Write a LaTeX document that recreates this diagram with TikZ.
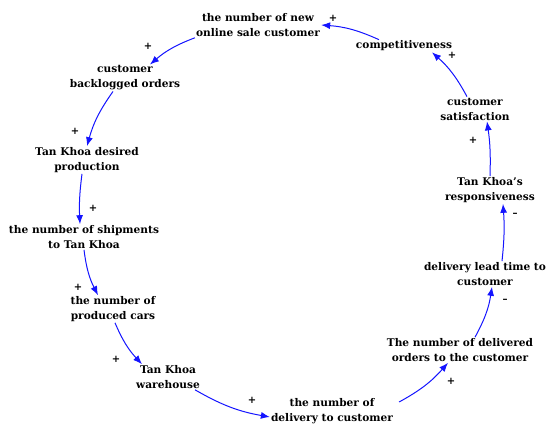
\documentclass[tikz,border=0pt]{standalone}
\usepackage{fontspec}
\setmainfont{DejaVu Serif}
\usetikzlibrary{arrows.meta,calc}
\definecolor{arrblue}{RGB}{20,20,255}
\tikzset{
  var/.style={font=\bfseries\fontsize{10.6}{15}\selectfont, align=center, inner sep=1pt},
  sgn/.style={font=\bfseries\fontsize{10}{12}\selectfont, inner sep=0pt},
  link/.style={draw=arrblue, line width=1pt, -{Latex[length=9pt,width=7pt]}},
}
\begin{document}
\begin{tikzpicture}[x=1pt,y=-1pt]
\useasboundingbox (0,0) rectangle (550,433);
\node[var] (n1) at (258,25) {the number of new\\online sale customer};
\node[var] (n2) at (404,46) {competitiveness};
\node[var] (n3) at (475,109) {customer\\satisfaction};
\node[var] (n4) at (490,190) {Tan Khoa's\\responsiveness};
\node[var] (n5) at (485,274) {delivery lead time to\\customer};
\node[var] (n6) at (460,350) {The number of delivered\\orders to the customer};
\node[var] (n7) at (332,411) {the number of\\delivery to customer};
\node[var] (n8) at (168,377) {Tan Khoa\\warehouse};
\node[var] (n9) at (113,309) {the number of\\produced cars};
\node[var] (n10) at (84,237) {the number of shipments\\to Tan Khoa};
\node[var] (n11) at (87,160) {Tan Khoa desired\\production};
\node[var] (n12) at (125,78) {customer\\backlogged orders};

\node[sgn] (s1) at (333,18) {+};
\node[sgn] (s2) at (148,46) {+};
\node[sgn] (s3) at (75,131) {+};
\node[sgn] (s4) at (93,208) {+};
\node[sgn] (s5) at (78,287) {+};
\node[sgn] (s6) at (116,359) {+};
\node[sgn] (s7) at (252,400) {+};
\node[sgn] (s8) at (451,381) {+};
\node[sgn] (s9) at (505,301) {\textendash};
\node[sgn] (s10) at (515,215) {\textendash};
\node[sgn] (s11) at (473,140) {+};
\node[sgn] (s12) at (452,55) {+};

\draw[link] ($(n2.north)+(-25,0)$) to[bend right=10] (n1.east);
\draw[link] (n1.south west) to[bend right=10] ($(n12.north)+(25,0)$);
\draw[link] ($(n12.south)+(-12,0)$) to[bend right=10] (n11.north);
\draw[link] ($(n11.south)+(-5,0)$) to[bend right=5] ($(n10.north)+(-4,0)$);
\draw[link] (n10.south) to[bend right=10] ($(n9.north)+(-15,0)$);
\draw[link] ($(n9.south)+(2,0)$) to[bend right=10] ($(n8.north)+(-26,0)$);
\draw[link] ($(n8.south)+(27,0)$) to[bend right=10] ($(n7.west)+(0,6)$);
\draw[link] ($(n7.east)+(5,-9)$) to[bend right=10] ($(n6.south)+(-12,0)$);
\draw[link] ($(n6.north)+(15,0)$) to[bend right=10] ($(n5.south)+(7,0)$);
\draw[link] ($(n5.north)+(17,0)$) to[bend right=5] ($(n4.south)+(13,0)$);
\draw[link] (n4.north) to[bend right=5] ($(n3.south)+(12,0)$);
\draw[link] ($(n3.north)+(-8,0)$) to[bend right=10] ($(n2.south)+(28,0)$);
\end{tikzpicture}
\end{document}
